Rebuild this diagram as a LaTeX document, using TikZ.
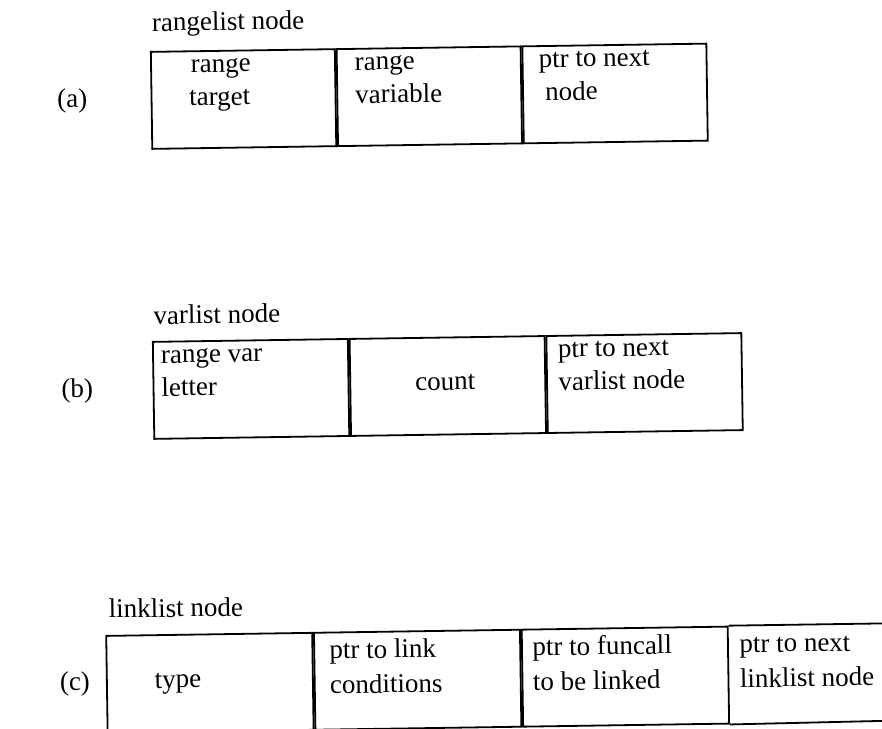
\documentclass[tikz,border=0pt]{standalone}
\usepackage{fontspec}
\setmainfont{Liberation Serif}
\begin{document}
\begin{tikzpicture}[x=1pt,y=-1pt,
  txt/.style={font=\fontsize{27}{32}\selectfont, inner sep=0pt, anchor=base west},
  ctxt/.style={txt, anchor=base},
  cell/.style={draw, line width=1.8pt, inner sep=0pt, anchor=north west, minimum height=97pt},
  edge/.style={line width=1.8pt}]
\useasboundingbox (0,0) rectangle (882,728);
\clip (0,0) rectangle (882,728);
\begin{scope}[rotate around={0.85:(441,364)}, transform shape]
  % (a) rangelist node
  \node[txt] (ta) at (157,27) {rangelist node};
  \node[cell, minimum width=184pt] (a1) at (154.6,46.7) {};
  \node[cell, minimum width=184pt] (a2) at (a1.north east) {};
  \node[cell, minimum width=184pt] (a3) at (a2.north east) {};
  \node[txt] (la) at (61,102) {(a)};
  \node[txt] (a1x) at (195,69) {range};
  \node[txt] (a1y) at (193,102) {target};
  \node[txt] (a2x) at (359,69) {range};
  \node[txt] (a2y) at (359,102) {variable};
  \node[txt] (a3x) at (543,69) {ptr to next};
  \node[txt] (a3y) at (549,102) {node};

  % (b) varlist node
  \node[txt] (tb) at (154,320) {varlist node};
  \node[cell, minimum width=195pt] (b1) at (152.3,336.7) {};
  \node[cell, minimum width=195pt] (b2) at (b1.north east) {};
  \node[cell, minimum width=195pt] (b3) at (b2.north east) {};
  \node[txt] (lb) at (61,392) {(b)};
  \node[txt] (b1x) at (161,359) {range var};
  \node[txt] (b1y) at (161,392) {letter};
  \node[ctxt] (b2x) at (445,390) {count};
  \node[txt] (b3x) at (558,359) {ptr to next};
  \node[txt] (b3y) at (558,392) {varlist node};

  % (c) linklist node, last cell runs off to the right
  \node[txt] (tc) at (105,613) {linklist node};
  \node[cell, minimum width=206pt] (c1) at (101.3,630) {};
  \node[cell, minimum width=206pt] (c2) at (c1.north east) {};
  \node[cell, minimum width=206pt] (c3) at (c2.north east) {};
  \coordinate (c4t) at (930,630);
  \coordinate (c4b) at (930,727);
  \draw[edge] (c3.north east) -- (c4t);
  \draw[edge] (c3.south east) -- (c4b);
  \node[txt] (lc) at (55,685) {(c)};
  \node[txt] (c1x) at (150,684) {type};
  \node[txt] (c2x) at (325,657) {ptr to link};
  \node[txt] (c2y) at (325,692) {conditions};
  \node[txt] (c3x) at (528,657) {ptr to funcall};
  \node[txt] (c3y) at (528,692) {to be linked};
  \node[txt] (c4x) at (735,657) {ptr to next};
  \node[txt] (c4y) at (735,692) {linklist node};
\end{scope}
\end{tikzpicture}
\end{document}
